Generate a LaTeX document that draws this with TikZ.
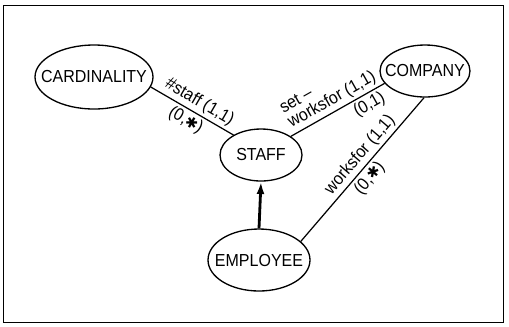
\documentclass[tikz,border=0pt]{standalone}
\usepackage{fontspec}
\setmainfont{Liberation Sans}[FakeStretch=0.92]
\newfontfamily\symfont{DejaVu Sans}
\usetikzlibrary{shapes.geometric,arrows.meta}
\newcommand{\enttext}[1]{\makebox[0pt]{#1}}
\newcommand{\many}{{\symfont\fontsize{8.5}{9}\selectfont ✱}}
\begin{document}
\begin{tikzpicture}[x=0.02cm,y=-0.02cm,
    every node/.style={font=\fontsize{9.9}{9.5}\selectfont},
    entity/.style={draw,ellipse,line width=0.75pt,inner sep=0pt},
    role/.style={sloped,inner sep=1.5pt},
    link/.style={line width=0.7pt}]
    \useasboundingbox (0,0) rectangle (509,326);
    \draw [line width=0.7pt] (3.5,5.5) rectangle (503.5,322.5);
    % entities
    \node [entity,minimum width=2.36cm,minimum height=1.28cm] (card) at (94,77) {\enttext{CARDINALITY}};
    \node [entity,minimum width=1.8cm,minimum height=1.04cm] (comp) at (425,71) {\enttext{COMPANY}};
    \node [entity,minimum width=1.64cm,minimum height=1.04cm] (staff) at (261,155) {\enttext{STAFF}};
    \node [entity,minimum width=2.04cm,minimum height=1.24cm] (emp) at (259,260) {\enttext{EMPLOYEE}};
    % functions
    \draw [link] (card.-10) -- (staff.144)
        node [role,above,pos=0.52] {\#staff (1,1)}
        node [role,below,pos=0.49] {(0,\many)};
    \draw [link] (staff.32) -- (comp.197)
        node [role,above,pos=0.5,align=left] {set --\\worksfor (1,1)}
        node [role,below,pos=0.78] {(0,1)};
    \draw [link] (emp.24) -- (comp.-92)
        node [role,above,pos=0.55] {worksfor (1,1)}
        node [role,below,pos=0.49] {(0,\many)};
    % isa
    \draw [line width=1.6pt,-{Latex[length=7pt,width=4.5pt]}] (emp.north) -- (staff.south);
\end{tikzpicture}
\end{document}
